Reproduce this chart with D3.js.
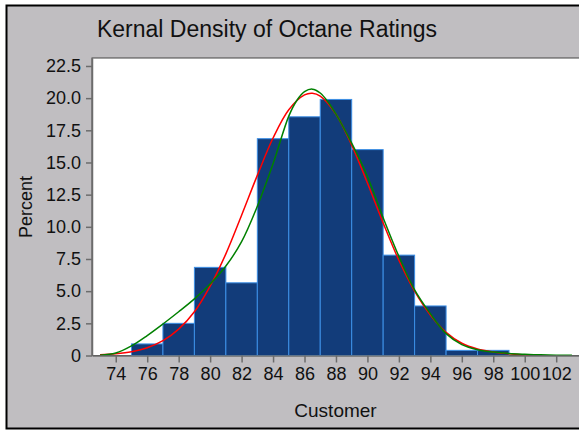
<!DOCTYPE html>
<html>
<head>
<meta charset="utf-8">
<script src="https://cdn.jsdelivr.net/npm/d3@7"></script>
<style>
  body { margin: 0; background: #fff; }
  text { font-family: "Liberation Sans", Arial, sans-serif; fill: #111; }
</style>
</head>
<body>
<svg class="chart"></svg>
<script>
// histogram bins (lower edge, upper edge) and percent per bin
var binLo = [75, 77, 79, 81, 83, 85, 87, 89, 91, 93, 95, 97];
var binHi = [77, 79, 81, 83, 85, 87, 89, 91, 93, 95, 97, 99];
var pct = [0.9, 2.5, 6.85, 5.65, 16.85, 18.55, 19.9, 16.0, 7.8, 3.85, 0.4, 0.4];

// red curve (normal fit)
var redX = [73, 74, 75, 76, 77, 78, 79, 80, 81, 82, 83, 84, 85, 86, 86.5, 87, 88, 89, 90, 91, 92, 93, 94, 95, 96, 97, 98, 99, 100, 100.3];
var redY = [0.05, 0.14, 0.3, 0.6, 1.15, 2.05, 3.4, 5.4, 7.9, 10.9, 14.0, 16.9, 19.1, 20.25, 20.38, 20.15, 18.75, 16.35, 13.4, 10.3, 7.4, 5.0, 3.15, 1.8, 0.95, 0.5, 0.27, 0.13, 0.05, 0.03];

// green curve (kernel estimate)
var grnX = [73, 74, 75, 76, 77, 78, 79, 80, 81, 82, 83, 84, 85, 85.5, 86, 86.5, 87, 87.5, 88, 89, 90, 91, 92, 93, 94, 95, 96, 97, 98, 99, 100, 101, 102, 103];
var grnY = [0.02, 0.2, 0.75, 1.55, 2.45, 3.4, 4.4, 5.55, 6.95, 8.85, 11.6, 14.9, 18.6, 19.8, 20.5, 20.7, 20.4, 19.7, 18.75, 16.5, 13.9, 10.7, 7.7, 5.1, 3.25, 1.7, 0.85, 0.45, 0.27, 0.15, 0.09, 0.05, 0.02, 0.01];

var xTicks = [74, 76, 78, 80, 82, 84, 86, 88, 90, 92, 94, 96, 98, 100, 102];
var yTicks = [0, 2.5, 5, 7.5, 10, 12.5, 15, 17.5, 20, 22.5];

var W = 579, H = 430;
var plot = { left: 92, right: 579, top: 58, bottom: 355.5 };

var chart = d3.select(".chart")
  .attr("width", W)
  .attr("height", H);

// gray page with black frame
chart.append("rect")
  .attr("x", 6.5).attr("y", 5.5)
  .attr("width", W + 10).attr("height", 423)
  .style("fill", "#c0bec1")
  .style("stroke", "#000")
  .style("stroke-width", 2);

chart.append("text")
  .attr("x", 267).attr("y", 37)
  .attr("text-anchor", "middle")
  .style("font-size", "23px")
  .text("Kernal Density of Octane Ratings");

var x = d3.scaleLinear().domain([72.49, 103.45]).range([plot.left, plot.right]);
var y = d3.scaleLinear().domain([0, 23.12]).range([plot.bottom, plot.top]);

chart.append("rect")
  .attr("x", plot.left).attr("y", plot.top)
  .attr("width", plot.right - plot.left + 5)
  .attr("height", plot.bottom - plot.top)
  .style("fill", "#fff")
  .style("stroke", "#444")
  .style("stroke-width", 1);

var bins = pct.map(function(p, i) { return { lo: binLo[i], hi: binHi[i], p: p }; });

chart.selectAll(".bar")
  .data(bins)
  .enter().append("rect")
  .attr("class", "bar")
  .attr("x", function(d) { return x(d.lo); })
  .attr("y", function(d) { return y(d.p); })
  .attr("width", function(d) { return x(d.hi) - x(d.lo); })
  .attr("height", function(d) { return y(0) - y(d.p); })
  .style("fill", "#123c7a")
  .style("stroke", "#3c8fe6")
  .style("stroke-width", 1);

var line = d3.line()
  .x(function(d) { return x(d[0]); })
  .y(function(d) { return y(d[1]); })
  .curve(d3.curveCatmullRom.alpha(0.5));

chart.append("path")
  .datum(redX.map(function(v, i) { return [v, redY[i]]; }))
  .attr("d", line)
  .style("fill", "none")
  .style("stroke", "#ff0000")
  .style("stroke-width", 1.5);

chart.append("path")
  .datum(grnX.map(function(v, i) { return [v, grnY[i]]; }))
  .attr("d", line)
  .style("fill", "none")
  .style("stroke", "#008000")
  .style("stroke-width", 1.5);

// axes
var xAxis = chart.append("g")
  .attr("transform", "translate(0," + plot.bottom + ")")
  .call(d3.axisBottom(x).tickValues(xTicks).tickSize(7).tickPadding(5).tickSizeOuter(0));

var yAxis = chart.append("g")
  .attr("transform", "translate(" + plot.left + ",0)")
  .call(d3.axisLeft(y).tickValues(yTicks).tickSize(6).tickPadding(5).tickSizeOuter(0)
    .tickFormat(function(d) { return d === 0 ? "0" : d3.format(".1f")(d); }));

chart.selectAll(".domain, .tick line")
  .style("stroke", "#6c6c6c")
  .style("stroke-width", 1.5);
chart.selectAll(".tick text")
  .style("font-size", "18px")
  .style("fill", "#111")
  .style("font-family", "'Liberation Sans', Arial, sans-serif");

chart.append("text")
  .attr("x", 335.5).attr("y", 417)
  .attr("text-anchor", "middle")
  .style("font-size", "19px")
  .text("Customer");

chart.append("text")
  .attr("transform", "translate(32,207) rotate(-90)")
  .attr("text-anchor", "middle")
  .style("font-size", "18px")
  .text("Percent");
</script>
</body>
</html>
